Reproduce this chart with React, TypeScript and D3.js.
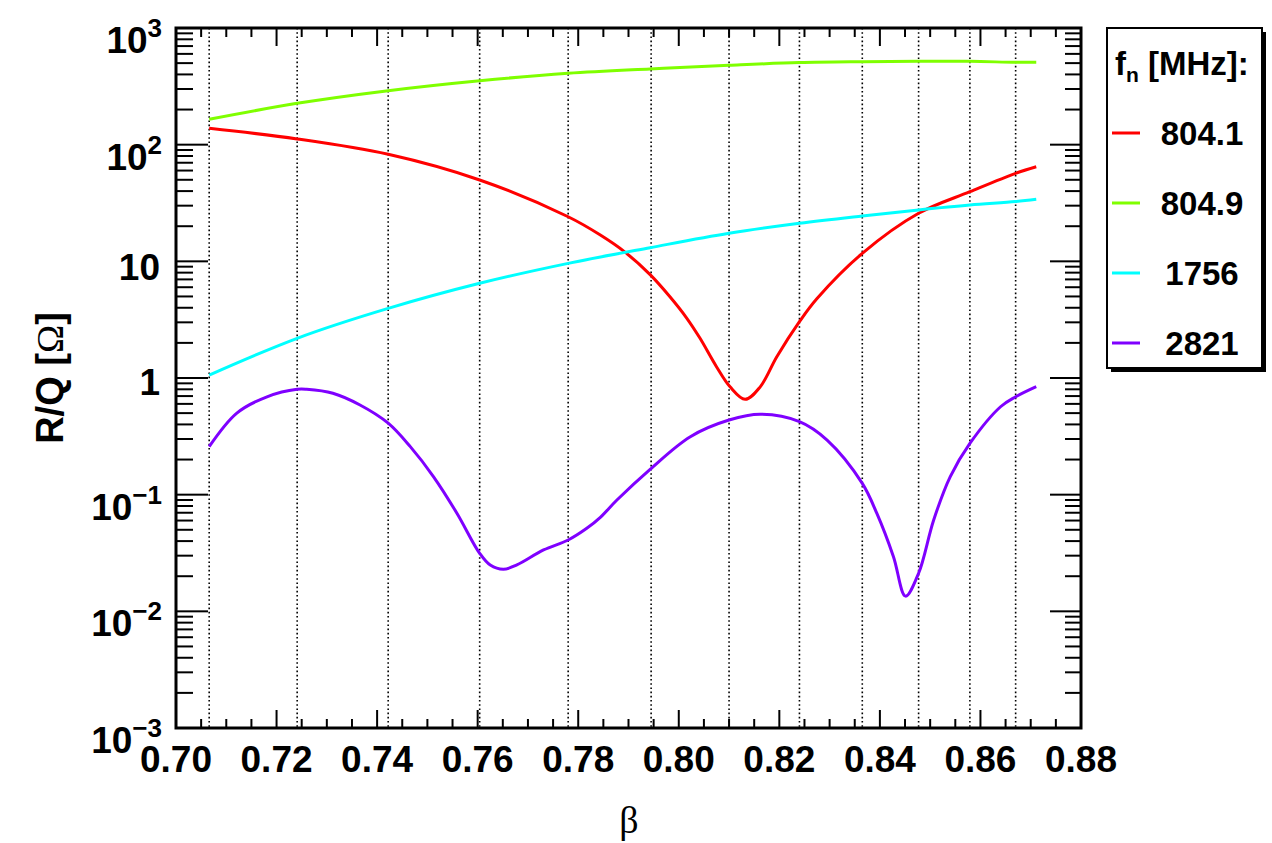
import * as d3 from 'd3';

// beta positions of the dotted vertical markers
const markerBetas = [0.7066, 0.7241, 0.7422, 0.7604, 0.778, 0.7945, 0.81, 0.824, 0.8365, 0.8477, 0.8579, 0.867];

const xTickLabels = ['0.70', '0.72', '0.74', '0.76', '0.78', '0.80', '0.82', '0.84', '0.86', '0.88'];
const yTickExps = [-3, -2, -1, 0, 1, 2, 3];

// 804.1 MHz
const redBeta = [0.7066, 0.7241, 0.7422, 0.7604, 0.778, 0.7844, 0.7893, 0.7943, 0.7982, 0.8015, 0.8042, 0.8075, 0.8102, 0.8132, 0.8162, 0.8195, 0.824, 0.8275, 0.8365, 0.8477, 0.8579, 0.867, 0.8711];
const redVal = [138, 112, 82.7, 49.8, 24.1, 16.8, 12.0, 7.7, 5.0, 3.3, 2.2, 1.25, 0.84, 0.656, 0.84, 1.52, 3.04, 4.8, 11.7, 25.8, 39.5, 56.8, 64.7];

// 804.9 MHz and 1756 MHz
const smoothBeta = [0.7066, 0.7241, 0.7422, 0.7604, 0.778, 0.7943, 0.81, 0.824, 0.8365, 0.8477, 0.8579, 0.867, 0.8711];
const greenVal = [165, 226, 290, 353, 409, 446, 479, 505, 514, 518, 518, 508, 508];
const cyanVal = [1.06, 2.19, 3.95, 6.48, 9.6, 13.1, 17.4, 21.2, 24.5, 27.6, 30.4, 32.5, 34.0];

// 2821 MHz
const purpleBeta = [0.7066, 0.7121, 0.7181, 0.7241, 0.726, 0.7312, 0.7366, 0.7422, 0.7466, 0.7512, 0.7559, 0.7604, 0.7625, 0.7651, 0.7678, 0.7731, 0.778, 0.7817, 0.7844, 0.7877, 0.7943, 0.8023, 0.81, 0.8162, 0.824, 0.8295, 0.8365, 0.8394, 0.8427, 0.8451, 0.8477, 0.8507, 0.854, 0.8579, 0.864, 0.867, 0.8711];
const purpleVal = [0.258, 0.5, 0.69, 0.8, 0.8, 0.74, 0.587, 0.41, 0.258, 0.143, 0.069, 0.0314, 0.0249, 0.0229, 0.025, 0.0336, 0.0409, 0.0515, 0.064, 0.09, 0.165, 0.314, 0.436, 0.489, 0.423, 0.294, 0.125, 0.069, 0.0294, 0.0135, 0.0212, 0.0607, 0.143, 0.275, 0.567, 0.69, 0.843];

const series = [
  { name: '804.1', color: '#ff0000', beta: redBeta, val: redVal },
  { name: '804.9', color: '#7fff00', beta: smoothBeta, val: greenVal },
  { name: '1756', color: '#00ffff', beta: smoothBeta, val: cyanVal },
  { name: '2821', color: '#7f00ff', beta: purpleBeta, val: purpleVal },
];

const W = 1272, H = 843;
const L = 176, R = 1081, T = 28, B = 728;
const sans = '"Liberation Sans", Arial, sans-serif';
const serif = '"Liberation Serif", "Times New Roman", serif';

export default function App() {
  const x = d3.scaleLinear().domain([0.7, 0.88]).range([L, R]);
  const y = d3.scaleLog().domain([1e-3, 1e3]).range([B, T]);

  const xMinor = d3.range(0, 37).map(i => 0.7 + i * 0.005);
  const yMinor: number[] = [];
  for (let e = -3; e < 3; e++) for (let m = 2; m <= 9; m++) yMinor.push(m * Math.pow(10, e));

  const line = (b: number[], v: number[]) =>
    d3.line<number>().x((_, i) => x(b[i])).y(d => y(d)).curve(d3.curveCatmullRom.alpha(0.5))(v) || '';

  const yLabel = (e: number) => {
    const ty = y(Math.pow(10, e));
    if (e === 0 || e === 1) {
      return (
        <text key={e} x={160} y={ty + (e === 0 ? 17 : 19)} textAnchor="end" fontFamily={sans} fontWeight="bold" fontSize={37}>
          {e === 0 ? '1' : '10'}
        </text>
      );
    }
    return (
      <text key={e} x={162} y={ty + 25} textAnchor="end" fontFamily={sans} fontWeight="bold" fontSize={37}>
        10<tspan dy={-16} fontSize={26}>{e < 0 ? '\u2212' + (-e) : e}</tspan>
      </text>
    );
  };

  const legendY = [133, 203, 273, 343];

  return (
    <svg width={W} height={H} style={{ position: 'absolute', left: 0, top: 0, background: '#fff' }}>
      <rect x={0} y={0} width={W} height={H} fill="#fff" />
      {/* dotted markers */}
      {markerBetas.map((b, i) => (
        <line key={i} x1={x(b)} x2={x(b)} y1={T} y2={B} stroke="#000" strokeWidth={1.6} strokeDasharray="1.6,2.6" />
      ))}
      {/* curves */}
      <g fill="none" strokeWidth={3} strokeLinejoin="round">
        {series.map(s => (
          <path key={s.name} d={line(s.beta, s.val)} stroke={s.color} />
        ))}
      </g>
      {/* ticks */}
      <g stroke="#000" strokeWidth={2}>
        {xMinor.map((v, i) => {
          const len = i % 4 === 0 ? 18 : 9;
          const xx = x(v);
          return (
            <g key={i}>
              <line x1={xx} x2={xx} y1={B} y2={B - len} />
              <line x1={xx} x2={xx} y1={T} y2={T + len} />
            </g>
          );
        })}
        {yTickExps.map(e => {
          const yy = y(Math.pow(10, e));
          return (
            <g key={e}>
              <line x1={L} x2={L + 32} y1={yy} y2={yy} />
              <line x1={R} x2={R - 31} y1={yy} y2={yy} />
            </g>
          );
        })}
        {yMinor.map((v, i) => {
          const yy = y(v);
          return (
            <g key={i}>
              <line x1={L} x2={L + 17} y1={yy} y2={yy} />
              <line x1={R} x2={R - 16} y1={yy} y2={yy} />
            </g>
          );
        })}
      </g>
      {/* frame */}
      <rect x={L} y={T} width={R - L} height={B - T} fill="none" stroke="#000" strokeWidth={3} />
      {/* x labels */}
      {xTickLabels.map((t, i) => (
        <text key={t} x={x(0.7 + i * 0.02)} y={772} textAnchor="middle" fontFamily={sans} fontWeight="bold" fontSize={37}>
          {t}
        </text>
      ))}
      {yTickExps.map(yLabel)}
      {/* axis titles */}
      <text x={629} y={833} textAnchor="middle" fontFamily={serif} fontSize={38}>β</text>
      <text transform={`translate(63,${(T + B) / 2}) rotate(-90)`} textAnchor="middle" fontFamily={sans} fontWeight="bold" fontSize={38}>
        R/Q [<tspan fontFamily={serif} fontWeight="normal">Ω</tspan>]
      </text>
      {/* legend */}
      <rect x={1111} y={32} width={155} height={340} fill="#000" />
      <rect x={1107} y={28} width={155} height={340} fill="#fff" stroke="#000" strokeWidth={2} />
      <text x={1115} y={75} fontFamily={sans} fontWeight="bold" fontSize={33}>
        f<tspan dy={7} fontSize={21}>n</tspan><tspan dy={-7}> [MHz]:</tspan>
      </text>
      {series.map((s, i) => (
        <g key={s.name}>
          <line x1={1112} x2={1140} y1={legendY[i]} y2={legendY[i]} stroke={s.color} strokeWidth={3} />
          <text x={1202} y={legendY[i] + 12} textAnchor="middle" fontFamily={sans} fontWeight="bold" fontSize={33}>
            {s.name}
          </text>
        </g>
      ))}
    </svg>
  );
}
